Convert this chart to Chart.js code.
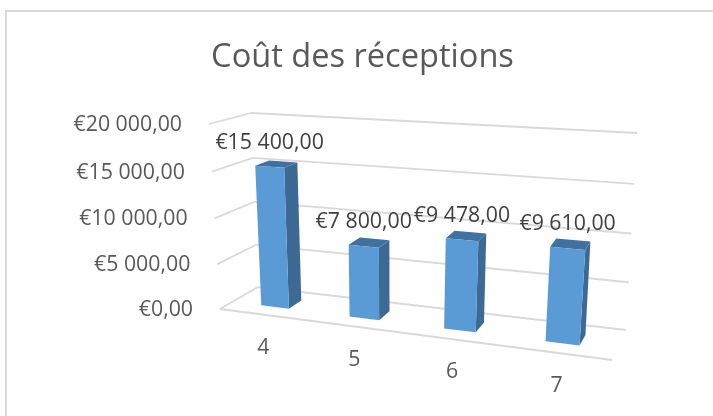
<!DOCTYPE html>
<html lang="fr">
<head>
<meta charset="utf-8">
<title>Coût des réceptions</title>
<script src="https://cdn.jsdelivr.net/npm/chart.js@4"></script>
<style>
    html, body { margin: 0; padding: 0; background: #fff; overflow: hidden; }
    #wrap { position: relative; width: 713px; height: 416px; }
    #frame { position: absolute; left: 5px; top: 10px; right: 0; bottom: 0; border-left: 2px solid #d9d9d9; border-top: 2px solid #d9d9d9; }
    canvas { position: absolute; left: 0; top: 0; }
</style>
</head>
<body>
<div id="wrap">
    <div id="frame"></div>
    <canvas id="chart" width="713" height="416"></canvas>
</div>
<script>
// --- data ---
const chartTitle = 'Coût des réceptions';
const categories = ['4', '5', '6', '7'];
const costs = [15400, 7800, 9478, 9610];
const yTicks = [0, 5000, 10000, 15000, 20000];

const fmtEuro = (val) => '€' + val.toFixed(2).replace('.', ',').replace(/\B(?=(\d{3})+(?!\d))/g, ' ');

// --- corners of the 3D box on screen: [u][v][d] ---
const box = {
    '000': [220, 309], '100': [612, 360],
    '001': [258, 287], '101': [626, 330],
    '010': [209, 124], '110': [628, 151],
    '011': [251, 113], '111': [637, 133]
};
const uBend = 0.87, vBend = 0.96;
const frontDepth = 0.33, backDepth = 0.69;

const bend = (t, r) => r * t / (1 + (r - 1) * t);

// u: along the categories, v: up the value axis, d: floor depth (0 = front)
function project(u, v, d) {
    const U = bend(u, uBend), V = bend(v, vBend);
    const out = [0, 0];
    for (let a = 0; a < 2; a++) {
        for (let b = 0; b < 2; b++) {
            for (let c = 0; c < 2; c++) {
                const w = (a ? U : 1 - U) * (b ? V : 1 - V) * (c ? d : 1 - d);
                const p = box['' + a + b + c];
                out[0] += w * p[0];
                out[1] += w * p[1];
            }
        }
    }
    return out;
}

function poly(ctx, pts, color) {
    ctx.fillStyle = color;
    ctx.beginPath();
    pts.forEach((p, i) => i ? ctx.lineTo(p[0], p[1]) : ctx.moveTo(p[0], p[1]));
    ctx.closePath();
    ctx.fill();
}

function line(ctx, a, b) {
    ctx.beginPath();
    ctx.moveTo(a[0], a[1]);
    ctx.lineTo(b[0], b[1]);
    ctx.stroke();
}

// --- walls, bars and labels drawn through the chart's own scales ---
const perspective = {
    id: 'perspective',
    afterDatasetsDraw(chart) {
        const ctx = chart.ctx;
        const area = chart.chartArea;
        const toU = (px) => (px - area.left) / area.width;
        const toV = (py) => (area.bottom - py) / area.height;
        const xScale = chart.scales.x;
        const yScale = chart.scales.y;

        ctx.save();

        // grid
        ctx.strokeStyle = '#d9d9d9';
        ctx.lineWidth = 1.8;
        yScale.ticks.forEach((t) => {
            const v = toV(yScale.getPixelForValue(t.value));
            line(ctx, project(0, v, 0), project(0, v, 1));
            line(ctx, project(0, v, 1), project(1, v, 1));
        });
        line(ctx, project(0, 0, 0), project(1, 0, 0));

        // value axis labels
        ctx.fillStyle = '#595959';
        ctx.font = '21.3px "Open Sans"';
        ctx.textAlign = 'right';
        ctx.textBaseline = 'middle';
        yScale.ticks.forEach((t) => {
            const p = project(0, toV(yScale.getPixelForValue(t.value)), 0);
            ctx.fillText(fmtEuro(t.value), p[0] - 27, p[1] + 1);
        });

        // category labels
        ctx.textAlign = 'center';
        xScale.ticks.forEach((t, i) => {
            const p = project(toU(xScale.getPixelForTick(i)), 0, 0);
            ctx.fillText(xScale.getLabelForValue(t.value), p[0], p[1] + 33);
        });

        // bars
        chart.getDatasetMeta(0).data.forEach((bar, i) => {
            const u0 = toU(bar.x - bar.width / 2);
            const u1 = toU(bar.x + bar.width / 2);
            const top = toV(bar.y);
            const f = frontDepth, b = backDepth;
            poly(ctx, [project(u1, 0, f), project(u1, 0, b), project(u1, top, b), project(u1, top, f)], '#3c6a94');
            poly(ctx, [project(u0, top, f), project(u1, top, f), project(u1, top, b), project(u0, top, b)], '#41729f');
            poly(ctx, [project(u0, 0, f), project(u1, 0, f), project(u1, top, f), project(u0, top, f)], '#5b9bd5');

            // value label
            const c = project(toU(bar.x), top, f);
            ctx.fillStyle = '#404040';
            ctx.fillText(fmtEuro(costs[i]), c[0], c[1] - 24);
        });

        ctx.restore();
    }
};

new Chart(document.getElementById('chart').getContext('2d'), {
    type: 'bar',
    data: {
        labels: categories,
        datasets: [{ data: costs, backgroundColor: 'transparent', barPercentage: 0.32, categoryPercentage: 1 }]
    },
    options: {
        responsive: false,
        animation: false,
        layout: { padding: { left: 12, top: 38, bottom: 40 } },
        plugins: {
            legend: { display: false },
            tooltip: { enabled: false },
            title: {
                display: true,
                text: chartTitle,
                color: '#595959',
                font: { family: 'Open Sans', size: 32.6, weight: 'normal' },
                padding: 0
            }
        },
        scales: {
            x: { ticks: { display: false }, grid: { display: false }, border: { display: false } },
            y: {
                min: yTicks[0],
                max: yTicks[yTicks.length - 1],
                afterBuildTicks: (axis) => { axis.ticks = yTicks.map((value) => ({ value })); },
                ticks: { display: false },
                grid: { display: false },
                border: { display: false }
            }
        }
    },
    plugins: [perspective]
});
</script>
</body>
</html>
